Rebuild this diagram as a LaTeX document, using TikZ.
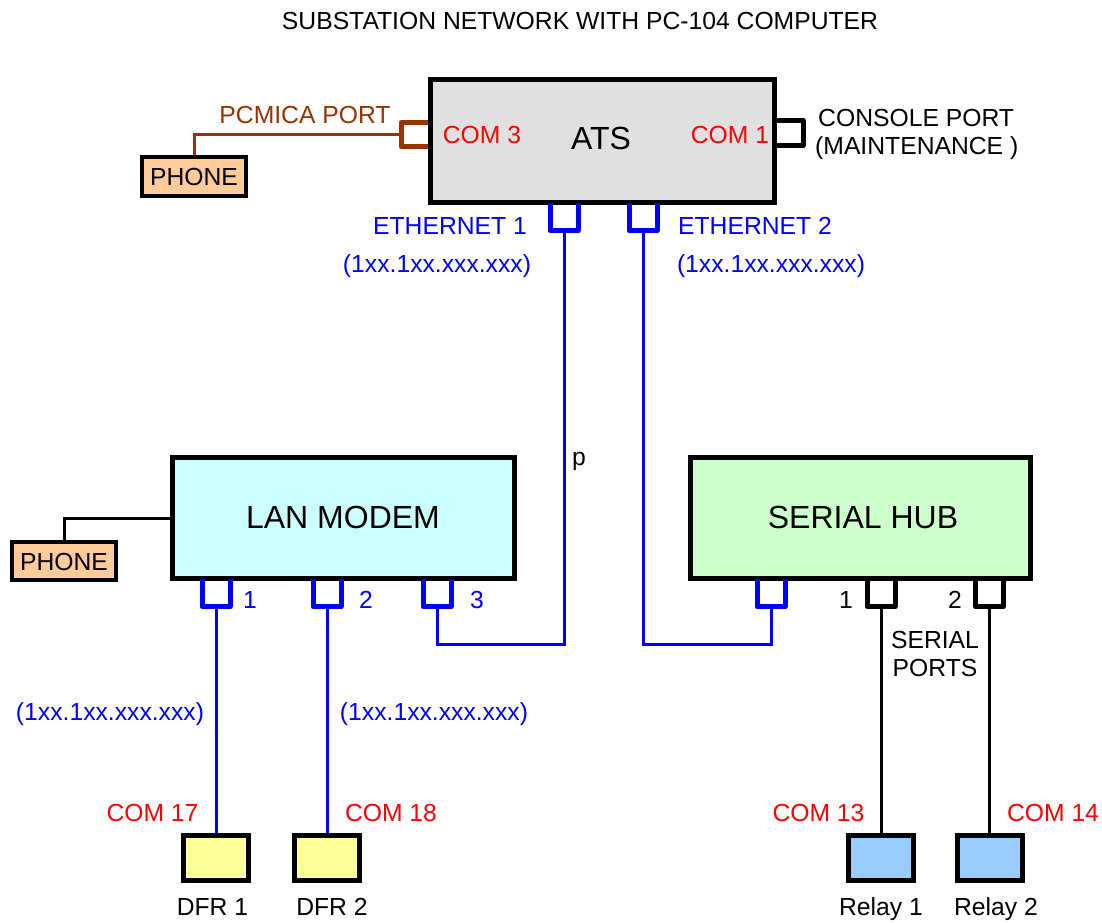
\documentclass[tikz,border=0pt]{standalone}
\usepackage{fontspec}
\setmainfont{Liberation Sans}
\definecolor{wirebrown}{RGB}{153,51,0}
\definecolor{atsgray}{RGB}{224,224,224}
\definecolor{lancyan}{RGB}{204,255,255}
\definecolor{hubgreen}{RGB}{204,255,204}
\definecolor{phonepeach}{RGB}{255,204,153}
\definecolor{dfryellow}{RGB}{255,255,153}
\definecolor{relayblue}{RGB}{153,204,255}
\tikzset{
  lbl/.style={inner sep=0pt, anchor=base, font=\fontsize{24.7}{28}\selectfont},
  big/.style={inner sep=0pt, anchor=base, font=\fontsize{32}{36}\selectfont},
  unit/.style={draw=black, line width=5pt, rectangle, inner sep=0pt},
  smallunit/.style={draw=black, line width=4pt, rectangle, inner sep=0pt},
  wire/.style={line width=3pt},
  portline/.style={line width=5pt, line join=round},
  portdown/.pic={
    \draw[portline] (-14,0) -- (-14,28) -- (14,28) -- (14,0);
    \coordinate (-end) at (0,28);
  },
  portleft/.pic={
    \draw[portline] (0,-12) -- (-27,-12) -- (-27,12) -- (0,12);
    \coordinate (-end) at (-27,0);
  },
  portright/.pic={
    \draw[portline] (0,-12.5) -- (26,-12.5) -- (26,12.5) -- (0,12.5);
    \coordinate (-end) at (26,0);
  },
}
\begin{document}
\begin{tikzpicture}[x=1pt, y=-1pt]
\useasboundingbox (0,0) rectangle (1102,922);

% units
\node[unit, fill=atsgray, minimum width=344pt, minimum height=123pt] (ats) at (602.5,141) {};
\node[unit, fill=lancyan, minimum width=342pt, minimum height=121pt] (lan) at (343.5,518) {};
\node[unit, fill=hubgreen, minimum width=340pt, minimum height=121pt] (hub) at (860.5,518) {};
\node[smallunit, fill=phonepeach, minimum width=104pt, minimum height=39pt] (ph1) at (194,176.5) {};
\node[smallunit, fill=phonepeach, minimum width=104pt, minimum height=38pt] (ph2) at (64,561) {};
\node[unit, fill=dfryellow, minimum width=65pt, minimum height=45pt] (d1) at (216,857.5) {};
\node[unit, fill=dfryellow, minimum width=65pt, minimum height=45pt] (d2) at (327,857.5) {};
\node[unit, fill=relayblue, minimum width=65pt, minimum height=45pt] (r1) at (881,857.5) {};
\node[unit, fill=relayblue, minimum width=65pt, minimum height=45pt] (r2) at (989.5,857.5) {};

% ports
\pic[color=wirebrown] (c3) at (ats.west |- 0,134.5) {portleft};
\pic[color=black] (c1) at (ats.east |- 0,133) {portright};
\pic[color=blue] (e1) at (564,202.5) {portdown};
\pic[color=blue] (e2) at (643,202.5) {portdown};
\pic[color=blue] (l1) at (216,578.5) {portdown};
\pic[color=blue] (l2) at (327,578.5) {portdown};
\pic[color=blue] (l3) at (437,578.5) {portdown};
\pic[color=blue] (h0) at (771,578.5) {portdown};
\pic[color=black] (s1) at (881,578.5) {portdown};
\pic[color=black] (s2) at (989.5,578.5) {portdown};

% connectors
\coordinate (bus) at (0,644);
\draw[wire, wirebrown] (c3-end) -| (ph1.north);
\draw[wire, black] (lan.west) -| (ph2.north);
\draw[wire, blue] (l3-end) -- (l3-end |- bus) -- (e1-end |- bus) -- (e1-end);
\draw[wire, blue] (e2-end) -- (e2-end |- bus) -- (h0-end |- bus) -- (h0-end);
\draw[wire, blue] (l1-end) -- (l1-end |- d1.north);
\draw[wire, blue] (l2-end) -- (l2-end |- d2.north);
\draw[wire, black] (s1-end) -- (s1-end |- r1.north);
\draw[wire, black] (s2-end) -- (s2-end |- r2.north);

% texts
\node[lbl] (title) at (580,29) {SUBSTATION NETWORK WITH PC-104 COMPUTER};
\node[lbl, wirebrown] (pcmica) at (305,123) {PCMICA PORT};
\node[lbl, red] (com3) at (482,143) {COM 3};
\node[big] (atsname) at (601,149.5) {ATS};
\node[lbl, red] (com1) at (730,143) {COM 1};
\node[lbl, anchor=base west] (console) at (818,126) {CONSOLE PORT};
\node[lbl, anchor=base west] (maint) at (815,154) {(MAINTENANCE )};
\node[lbl] (ph1t) at (ph1.center |- 0,185) {PHONE};
\node[lbl] (ph2t) at (ph2.center |- 0,570) {PHONE};
\node[lbl, blue] (eth1) at (450,234.5) {ETHERNET 1};
\node[lbl, blue] (ip1) at (437,272) {(1xx.1xx.xxx.xxx)};
\node[lbl, blue] (eth2) at (755,234.5) {ETHERNET 2};
\node[lbl, blue] (ip2) at (771,272) {(1xx.1xx.xxx.xxx)};
\node[lbl] (pmark) at (579,465) {p};
\node[big] (lanname) at (343,528.5) {LAN MODEM};
\node[big] (hubname) at (863,528.5) {SERIAL HUB};
\node[lbl, blue] (n1) at (250,608) {1};
\node[lbl, blue] (n2) at (366,608) {2};
\node[lbl, blue] (n3) at (477,608) {3};
\node[lbl] (m1) at (846,608) {1};
\node[lbl] (m2) at (955,608) {2};
\node[lbl] (serial) at (935,648) {SERIAL};
\node[lbl] (ports) at (935,676) {PORTS};
\node[lbl, blue] (ip3) at (110,720.5) {(1xx.1xx.xxx.xxx)};
\node[lbl, blue] (ip4) at (434,720.5) {(1xx.1xx.xxx.xxx)};
\node[lbl, red] (com17) at (152.5,821) {COM 17};
\node[lbl, red] (com18) at (391,821) {COM 18};
\node[lbl, red] (com13) at (818.5,821) {COM 13};
\node[lbl, red] (com14) at (1053,821) {COM 14};
\node[lbl] (d1t) at (212.5,915) {DFR 1};
\node[lbl] (d2t) at (332,915) {DFR 2};
\node[lbl] (r1t) at (881,915) {Relay 1};
\node[lbl] (r2t) at (996,915) {Relay 2};
\end{tikzpicture}
\end{document}
